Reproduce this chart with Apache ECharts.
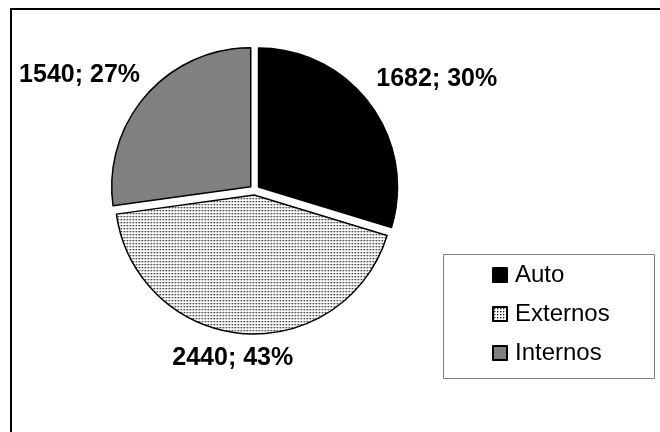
<!DOCTYPE html>
<html>
<head>
<meta charset="utf-8">
<script src="https://cdn.jsdelivr.net/npm/echarts@6/dist/echarts.min.js"></script>
<style>
html,body{margin:0;padding:0;background:#fff;}
#chart{width:660px;height:432px;}
</style>
</head>
<body>
<div id="chart"></div>
<script>
const categories = ['Auto', 'Externos', 'Internos'];
const values = [1682, 2440, 1540];

const sliceColors = ['#000000', 'pattern', '#808080'];
const labelNudge = [[-19, -10], [57, 0], [18, -4]];

function makeDotPattern() {
  const c = document.createElement('canvas');
  c.width = 3; c.height = 3;
  const g = c.getContext('2d');
  g.fillStyle = '#ffffff';
  g.fillRect(0, 0, 3, 3);
  g.fillStyle = '#a0a0a0';
  g.fillRect(2, 1, 1, 1);
  g.fillRect(1, 2, 1, 1);
  g.fillStyle = '#202020';
  g.fillRect(1, 1, 1, 1);
  return c;
}
const dotPattern = { image: makeDotPattern(), repeat: 'repeat' };

const chart = echarts.init(document.getElementById('chart'), null, { renderer: 'canvas' });
const FONT = 'Liberation Sans, Arial, sans-serif';

chart.setOption({
  animation: false,
  backgroundColor: '#ffffff',
  graphic: [
    { type: 'rect', shape: { x: 11, y: 9, width: 720, height: 500 },
      style: { fill: 'none', stroke: '#000', lineWidth: 2 }, silent: true, z: 0 },
    { type: 'rect', shape: { x: 443.5, y: 254.5, width: 211, height: 124 },
      style: { fill: '#fff', stroke: '#808080', lineWidth: 1 }, silent: true, z: 0 }
  ],
  legend: {
    orient: 'vertical',
    left: 492, top: 263,
    padding: 0,
    itemWidth: 14, itemHeight: 14,
    itemGap: 15,
    icon: 'rect',
    textStyle: { fontFamily: FONT, fontSize: 24, color: '#000', padding: [0, 0, 0, 3] },
    data: categories
  },
  series: [{
    type: 'pie',
    center: [254.5, 190],
    radius: 139,
    startAngle: 90,
    clockwise: true,
    percentPrecision: 0,
    selectedMode: 'multiple',
    selectedOffset: 5,
    emphasis: { disabled: true },
    itemStyle: { borderColor: '#000', borderWidth: 1.5 },
    label: {
      show: true,
      position: 'outside',
      formatter: '{c}; {d}%',
      fontFamily: FONT,
      fontWeight: 'bold',
      fontSize: 25,
      color: '#000',
      overflow: 'none',
      bleedMargin: 0
    },
    labelLine: { show: false, length: 25, length2: 0 },
    labelLayout: function (p) {
      const n = labelNudge[p.dataIndex] || [0, 0];
      return { dx: n[0], dy: n[1] };
    },
    data: categories.map(function (name, i) {
      return {
        name: name,
        value: values[i],
        selected: true,
        itemStyle: { color: sliceColors[i] === 'pattern' ? dotPattern : sliceColors[i] }
      };
    })
  }]
});
</script>
</body>
</html>
